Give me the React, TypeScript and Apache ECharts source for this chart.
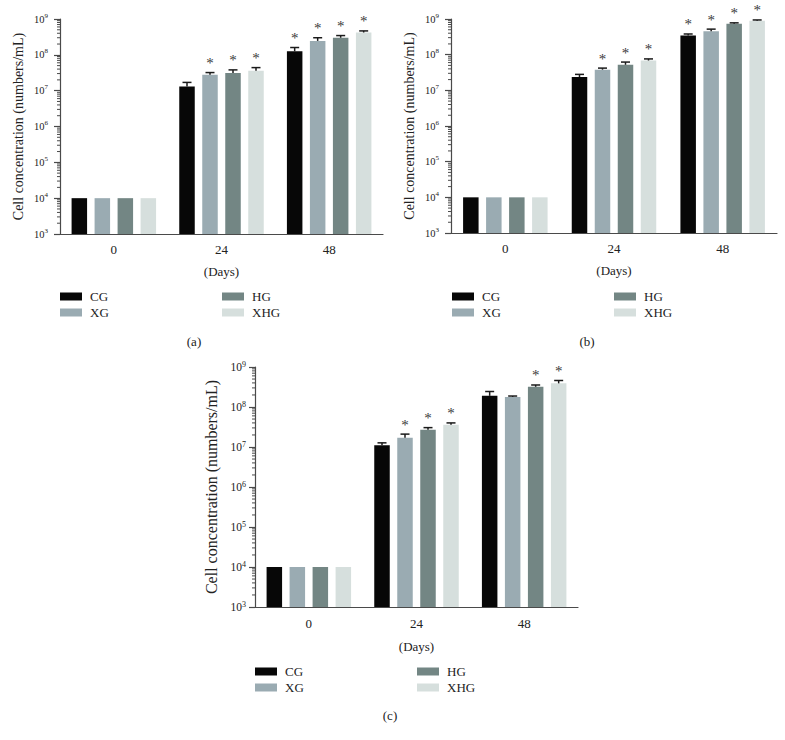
import React, { useEffect, useRef } from 'react';
import * as echarts from 'echarts';

const days = ['0', '24', '48'];
const groups = ['CG', 'XG', 'HG', 'XHG'];
const groupColors = ['#070707', '#9aabb2', '#738684', '#d6dfdd'];
const minorMultipliers = [2, 3, 4, 5, 6, 7, 8, 9];
const decadeExponents = [3, 4, 5, 6, 7, 8];

// Panel (a)
const aCG = [1e4, 1.3e7, 1.26e8];
const aXG = [1e4, 2.8e7, 2.45e8];
const aHG = [1e4, 3.1e7, 3.0e8];
const aXHG = [1e4, 3.6e7, 4.2e8];
const aCGErr = [0, 0.4e7, 0.34e8];
const aXGErr = [0, 0.4e7, 0.55e8];
const aHGErr = [0, 0.7e7, 0.45e8];
const aXHGErr = [0, 0.8e7, 0.45e8];
const aCGStar = [0, 0, 1];
const aXGStar = [0, 1, 1];
const aHGStar = [0, 1, 1];
const aXHGStar = [0, 1, 1];

// Panel (b)
const bCG = [1e4, 2.36e7, 3.46e8];
const bXG = [1e4, 3.8e7, 4.5e8];
const bHG = [1e4, 5.2e7, 7.3e8];
const bXHG = [1e4, 6.85e7, 9.0e8];
const bCGErr = [0, 0.44e7, 0.34e8];
const bXGErr = [0, 0.4e7, 0.7e8];
const bHGErr = [0, 1.0e7, 0.5e8];
const bXHGErr = [0, 0.75e7, 0.4e8];
const bCGStar = [0, 0, 1];
const bXGStar = [0, 1, 1];
const bHGStar = [0, 1, 1];
const bXHGStar = [0, 1, 1];

// Panel (c)
const cCG = [1e4, 1.1e7, 1.9e8];
const cXG = [1e4, 1.7e7, 1.78e8];
const cHG = [1e4, 2.7e7, 3.2e8];
const cXHG = [1e4, 3.6e7, 3.9e8];
const cCGErr = [0, 0.17e7, 0.54e8];
const cXGErr = [0, 0.4e7, 0.1e8];
const cHGErr = [0, 0.35e7, 0.35e8];
const cXHGErr = [0, 0.4e7, 0.7e8];
const cCGStar = [0, 0, 0];
const cXGStar = [0, 1, 0];
const cHGStar = [0, 1, 1];
const cXHGStar = [0, 1, 1];

const panelLabels = ['(a)', '(b)', '(c)'];

const FONT = '"Liberation Serif", "DejaVu Serif", serif';
const AXIS_COLOR = '#4a4a4a';
const TEXT_COLOR = '#222';
const BAR_W = 15.5;
const BAR_GAP = 7.5;

const panels = [
  {
    values: [aCG, aXG, aHG, aXHG],
    errs: [aCGErr, aXGErr, aHGErr, aXHGErr],
    stars: [aCGStar, aXGStar, aHGStar, aXHGStar],
    grid: { left: 60, top: 19, width: 323, height: 215 },
    yFont: 10.5, supFont: 7, nameFont: 14, yNameGap: 35, xNameGap: 31, xMargin: 9, yMargin: 12,
    legendLeft: [60, 222], legendTop: 290,
    label: { x: 194, y: 341 },
  },
  {
    values: [bCG, bXG, bHG, bXHG],
    errs: [bCGErr, bXGErr, bHGErr, bXHGErr],
    stars: [bCGStar, bXGStar, bHGStar, bXHGStar],
    grid: { left: 451, top: 19, width: 326, height: 214 },
    yFont: 10.5, supFont: 7, nameFont: 14, yNameGap: 35, xNameGap: 31, xMargin: 9, yMargin: 12,
    legendLeft: [452, 614], legendTop: 290,
    label: { x: 587, y: 341 },
  },
  {
    values: [cCG, cXG, cHG, cXHG],
    errs: [cCGErr, cXGErr, cHGErr, cXHGErr],
    stars: [cCGStar, cXGStar, cHGStar, cXHGStar],
    grid: { left: 255, top: 367, width: 323, height: 240 },
    yFont: 11.5, supFont: 8, nameFont: 16, yNameGap: 36, xNameGap: 33, xMargin: 10, yMargin: 9,
    legendLeft: [255, 417], legendTop: 665,
    label: { x: 390, y: 715 },
  },
];

function buildOption() {
  const grid: any[] = [];
  const xAxis: any[] = [];
  const yAxis: any[] = [];
  const series: any[] = [];
  const legend: any[] = [];
  const graphic: any[] = [];

  const n = groups.length;
  const total = n * BAR_W + (n - 1) * BAR_GAP;
  const offsets = groups.map((_, i) => -total / 2 + BAR_W / 2 + i * (BAR_W + BAR_GAP));

  const minorVals: number[] = [];
  decadeExponents.forEach((e) => minorMultipliers.forEach((m) => minorVals.push(m * Math.pow(10, e))));

  panels.forEach((p, pi) => {
    grid.push({ ...p.grid, containLabel: false });
    xAxis.push({
      type: 'category',
      gridIndex: pi,
      data: days,
      axisLine: { lineStyle: { color: AXIS_COLOR, width: 1.2 } },
      axisTick: { alignWithLabel: true, length: 5, lineStyle: { color: AXIS_COLOR, width: 1.2 } },
      axisLabel: { margin: p.xMargin, fontSize: 13, color: TEXT_COLOR, fontFamily: FONT },
      name: '(Days)',
      nameLocation: 'middle',
      nameGap: p.xNameGap,
      nameTextStyle: { fontSize: 13, color: TEXT_COLOR, fontFamily: FONT },
    });
    yAxis.push({
      type: 'log',
      logBase: 10,
      gridIndex: pi,
      min: 1e3,
      max: 1e9,
      interval: 1,
      splitLine: { show: false },
      axisLine: { show: true, lineStyle: { color: AXIS_COLOR, width: 1.2 } },
      axisTick: { show: true, length: 6, lineStyle: { color: AXIS_COLOR, width: 1.2 } },
      axisLabel: {
        margin: p.yMargin,
        fontSize: p.yFont,
        fontFamily: FONT,
        color: TEXT_COLOR,
        formatter: (v: number) => `{b|10}{s|${Math.round(Math.log10(v))}}`,
        rich: {
          b: { fontSize: p.yFont, fontFamily: FONT, color: TEXT_COLOR, lineHeight: 14 },
          s: { fontSize: p.supFont, fontFamily: FONT, color: TEXT_COLOR, lineHeight: p.supFont, verticalAlign: 'top' },
        },
      },
      name: 'Cell concentration (numbers/mL)',
      nameLocation: 'middle',
      nameRotate: 90,
      nameGap: p.yNameGap,
      nameTextStyle: { fontSize: p.nameFont, color: TEXT_COLOR, fontFamily: FONT },
    });

    groups.forEach((g, gi) => {
      series.push({
        type: 'bar',
        name: g,
        xAxisIndex: pi,
        yAxisIndex: pi,
        data: p.values[gi],
        barWidth: BAR_W,
        barGap: (BAR_GAP / BAR_W) * 100 + '%',
        itemStyle: { color: groupColors[gi] },
        clip: true,
        z: 2,
      });
    });

    // minor ticks on log axis
    series.push({
      type: 'custom',
      name: 'minor-' + pi,
      xAxisIndex: pi,
      yAxisIndex: pi,
      data: minorVals.map((v) => [0, v]),
      silent: true,
      z: 5,
      renderItem: (params: any, api: any) => {
        const y = api.coord([0, api.value(1)])[1];
        const x0 = params.coordSys.x;
        return {
          type: 'line',
          shape: { x1: x0 - 3, y1: y, x2: x0, y2: y },
          style: { stroke: AXIS_COLOR, lineWidth: 1 },
        };
      },
    });

    // error bars + asterisks
    const errData: any[] = [];
    groups.forEach((_, gi) => {
      days.forEach((_, di) => {
        errData.push([di, p.values[gi][di], p.values[gi][di] + p.errs[gi][di], gi, p.stars[gi][di]]);
      });
    });
    series.push({
      type: 'custom',
      name: 'err-' + pi,
      xAxisIndex: pi,
      yAxisIndex: pi,
      data: errData,
      silent: true,
      z: 6,
      renderItem: (params: any, api: any) => {
        const cat = api.value(0);
        const v = api.value(1);
        const top = api.value(2);
        const gi = api.value(3);
        const star = api.value(4);
        const pb = api.coord([cat, v]);
        const pt = api.coord([cat, top]);
        const x = pb[0] + offsets[gi];
        const children: any[] = [];
        if (top > v) {
          children.push({
            type: 'line',
            shape: { x1: x, y1: pb[1], x2: x, y2: pt[1] },
            style: { stroke: '#1a1a1a', lineWidth: 1.5 },
          });
          children.push({
            type: 'line',
            shape: { x1: x - 4.5, y1: pt[1], x2: x + 4.5, y2: pt[1] },
            style: { stroke: '#1a1a1a', lineWidth: 1.5 },
          });
        }
        if (star) {
          children.push({
            type: 'text',
            x: x,
            y: pt[1] - 2,
            style: {
              text: '*',
              fontSize: 15,
              fontFamily: FONT,
              fill: '#3a3a3a',
              align: 'center',
              verticalAlign: 'bottom',
            },
          });
        }
        return { type: 'group', children };
      },
    });

    [[groups[0], groups[1]], [groups[2], groups[3]]].forEach((pair, li) => {
      legend.push({
        data: pair,
        orient: 'vertical',
        left: p.legendLeft[li],
        top: p.legendTop,
        padding: 0,
        itemWidth: 22,
        itemHeight: 8,
        itemGap: 3,
        icon: 'rect',
        selectedMode: false,
        textStyle: { fontSize: 13, fontFamily: FONT, color: TEXT_COLOR, padding: [0, 0, 0, 3] },
      });
    });

    graphic.push({
      type: 'text',
      x: p.label.x,
      y: p.label.y,
      style: {
        text: panelLabels[pi],
        fontSize: 13,
        fontFamily: FONT,
        fill: TEXT_COLOR,
        align: 'center',
        verticalAlign: 'middle',
      },
    });
  });

  return {
    animation: false,
    backgroundColor: '#ffffff',
    grid,
    xAxis,
    yAxis,
    series,
    legend,
    graphic,
  };
}

export default function App() {
  const ref = useRef<HTMLDivElement>(null);
  useEffect(() => {
    if (!ref.current) return;
    const chart = echarts.init(ref.current, null, { renderer: 'svg' });
    chart.setOption(buildOption() as any);
    return () => chart.dispose();
  }, []);
  return (
    <div
      ref={ref}
      style={{ position: 'absolute', left: 0, top: 0, width: 785, height: 740, background: '#fff' }}
    />
  );
}
